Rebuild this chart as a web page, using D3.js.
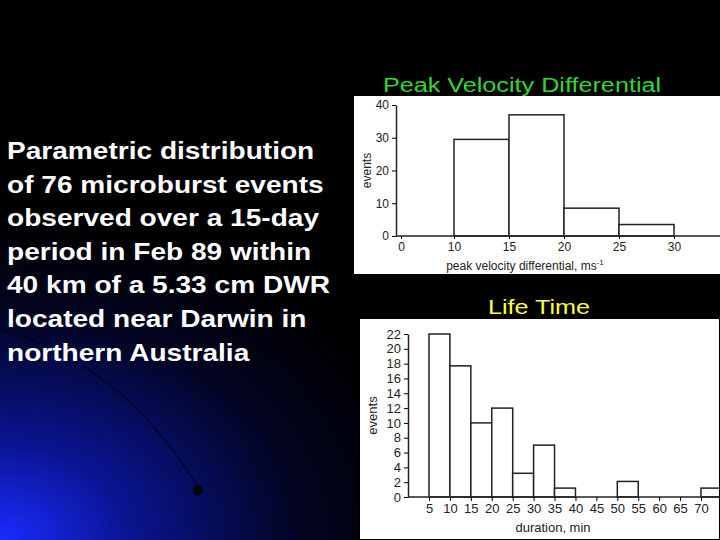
<!DOCTYPE html>
<html><head><meta charset="utf-8">
<script src="https://cdn.jsdelivr.net/npm/d3@7"></script>
<style>body{margin:0;background:#000}svg{display:block}</style></head>
<body><svg id="c" width="720" height="540"></svg>
<script>
const peakBins=[[10,15],[15,20],[20,25],[25,30]];
const peakValues=[29.5,37,8.5,3.5];
const peakXTicks=[0,10,15,20,25,30];
const peakYTicks=[0,10,20,30,40];
const lifeBins=[[5,10],[10,15],[15,20],[20,25],[25,30],[30,35],[35,40],[50,55],[70,75]];
const lifeValues=[22,17.7,10,12,3.2,7,1.2,2.1,1.2];
const lifeXTicks=[5,10,15,20,25,30,35,40,45,50,55,60,65,70];
const lifeYTicks=[0,2,4,6,8,10,12,14,16,18,20,22];
const descLines=["Parametric distribution","of 76 microburst events","observed over a 15-day","period in Feb 89 within","40 km of a 5.33 cm DWR","located near Darwin in","northern Australia"];

const svg=d3.select("#c");
const defs=svg.append("defs");
const g=defs.append("radialGradient").attr("id","bg").attr("cx","0").attr("cy","1").attr("r","0.6");
g.append("stop").attr("offset","0").attr("stop-color","#1a2cff");
g.append("stop").attr("offset","0.3").attr("stop-color","#0a1490");
g.append("stop").attr("offset","0.7").attr("stop-color","#020420");
g.append("stop").attr("offset","1").attr("stop-color","#000");
svg.append("rect").attr("width",720).attr("height",540).attr("fill","url(#bg)");
svg.append("path").attr("d","M0,330 Q120,360 200,490").attr("fill","none").attr("stroke","#000").attr("stroke-opacity",0.4).attr("stroke-width",2);
svg.append("circle").attr("cx",198).attr("cy",490).attr("r",5).attr("fill","#000");

svg.append("text").attr("transform","translate(7,0) scale(1.17,1)").attr("font-family","Liberation Sans, Arial").attr("font-weight","bold").attr("font-size",24).attr("fill","#fff")
 .selectAll("tspan").data(descLines).join("tspan").attr("x",0).attr("y",(d,i)=>159+i*33.6).text(d=>d);

svg.append("text").attr("transform","translate(522,92) scale(1.2,1)").attr("text-anchor","middle").attr("font-family","Liberation Sans, Arial").attr("font-size",21).attr("fill","#33d633").text("Peak Velocity Differential");
svg.append("text").attr("transform","translate(539,314) scale(1.2,1)").attr("text-anchor","middle").attr("font-family","Liberation Sans, Arial").attr("font-size",21).attr("fill","#ffff33").text("Life Time");

function panel(o){
  svg.append("rect").attr("x",o.px).attr("y",o.py).attr("width",720-o.px).attr("height",o.ph).attr("fill","#fff");
  const x=d3.scaleLinear().domain(o.xd).range(o.xr);
  const y=d3.scaleLinear().domain(o.yd).range(o.yr);
  const gg=svg.append("g").attr("font-family","Liberation Sans, Arial");
  gg.selectAll("rect.b").data(o.bins).join("rect").attr("x",d=>x(d[0])).attr("width",d=>x(d[1])-x(d[0]))
    .attr("y",(d,i)=>y(o.vals[i])).attr("height",(d,i)=>y(0)-y(o.vals[i])).attr("fill","#fff").attr("stroke","#222").attr("stroke-width",1.5);
  const ax=gg.append("g").attr("transform",`translate(0,${y(0)})`).call(d3.axisBottom(x).tickValues(o.xt).tickSize(o.tick).tickSizeOuter(0));
  ax.select(".domain").attr("d",`M${o.yax},0H720`).attr("stroke","#222").attr("stroke-width",1.5);
  ax.selectAll("text").attr("font-size",o.fs).attr("fill","#222");
  const ay=gg.append("g").attr("transform",`translate(${o.yax},0)`).call(d3.axisLeft(y).tickValues(o.yt).tickSize(4).tickSizeOuter(0));
  ay.select(".domain").attr("stroke","#222").attr("stroke-width",1.5);
  ay.selectAll("text").attr("font-size",o.fs).attr("fill","#222");
  gg.append("text").attr("transform",`translate(${o.ylx},${(o.yr[0]+o.yr[1])/2}) rotate(-90)`).attr("text-anchor","middle").attr("font-size",o.fs).attr("fill","#222").text("events");
  const t=gg.append("text").attr("x",o.xlx).attr("y",o.xly).attr("text-anchor","middle").attr("font-size",o.fs).attr("fill","#222").text(o.xl);
  if(o.sup) t.append("tspan").attr("dy",-5).attr("font-size",8).text(o.sup);
}
panel({px:354,py:96,ph:178,xd:[0,10,30],xr:[401,454,674],yd:[0,40],yr:[236,105],bins:peakBins,vals:peakValues,xt:peakXTicks,yt:peakYTicks,
  yax:396,tick:3,fs:12,ylx:371,xlx:525,xly:270,xl:"peak velocity differential, ms",sup:"-1"});
panel({px:359,py:318,ph:222,xd:[5,70],xr:[429,701],yd:[0,22],yr:[497,334],bins:lifeBins,vals:lifeValues,xt:lifeXTicks,yt:lifeYTicks,
  yax:408,tick:4,fs:13,ylx:377,xlx:553,xly:532,xl:"duration, min"});
svg.append("rect").attr("x",359).attr("y",318).attr("width",361).attr("height",222).attr("fill","none").attr("stroke","#000").attr("stroke-width",2);
</script></body></html>
